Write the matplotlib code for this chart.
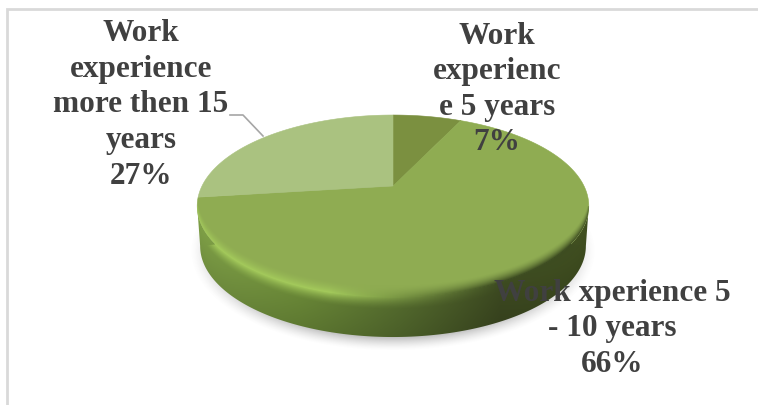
import numpy as np
import matplotlib
matplotlib.use("Agg")
import matplotlib.pyplot as plt
from matplotlib.patches import Polygon

# ===== DATA =====
categories = [
    "Work\nexperienc\ne 5 years",
    "Work xperience 5\n- 10 years",
    "Work\nexperience\nmore then 15\nyears",
]
values = [7, 66, 27]
colors = ["#7b9040", "#8fac52", "#aac280"]
label_pos = [(497, 89.5), (612, 329), (141, 105)]

# ===== PIE GEOMETRY (pixels) =====
W, H = 758, 406
cx, cy = 393, 187
px, py, persp = 191.0, 86.6, 0.22
depth = 40
wall_taper = 0.985


def project(theta):
    # clockwise from twelve o'clock, tilted circle with some perspective
    x = np.sin(theta)
    y = np.cos(theta)
    w = 1 + persp * y
    return cx + px * x / w, cy - py * y / w


def wedge(start, end):
    t = np.linspace(start, end, 200)
    xs, ys = project(t)
    return np.column_stack([np.r_[cx, xs], np.r_[cy, ys]])


# the widest points sit where cos(theta) == -persp
t_wide = np.arccos(-persp)
t_low = np.linspace(t_wide, 2 * np.pi - t_wide, 500)
t_up = np.linspace(t_wide - 2 * np.pi, 2 * np.pi - t_wide - 2 * np.pi, 500)
low_x, low_y = project(t_low)
up_x, up_y = project(t_up)
order = np.argsort(low_x)
edge_x, edge_y = low_x[order], low_y[order]
bottom_x = cx + (edge_x - cx) * wall_taper
bottom_y = edge_y + depth

fig = plt.figure(figsize=(W / 100, H / 100), dpi=100)
ax = fig.add_axes([0, 0, 1, 1])
ax.set_xlim(0, W)
ax.set_ylim(H, 0)
ax.axis("off")

# ===== FRAME (left and top only) =====
ax.plot([7, 7, W], [H, 10, 10], color="#d9d9d9", lw=2, solid_joinstyle="miter", zorder=1)

gx, gy = np.meshgrid(np.arange(W) + 0.5, np.arange(H) + 0.5)

# ===== SOFT SHADOW =====
d = np.sqrt(((gx - cx) / 203.0) ** 2 + ((gy - 252) / 100.0) ** 2)
shadow = np.zeros((H, W, 4))
shadow[..., :3] = 0.45
shadow[..., 3] = 0.42 * np.clip((1.0 - d) / 0.13, 0, 1) ** 1.5
ax.imshow(shadow, extent=(0, W, H, 0), zorder=2, aspect="auto", interpolation="bilinear")

# ===== SIDE WALL =====
stops_x = [197, 300, 400, 500, 589]
stops_rgb = np.array([
    [0.50, 0.63, 0.28],
    [0.42, 0.54, 0.22],
    [0.33, 0.42, 0.18],
    [0.24, 0.29, 0.13],
    [0.26, 0.32, 0.13],
])
base = np.stack([np.interp(gx, stops_x, stops_rgb[:, i]) for i in range(3)], axis=-1)
e = np.interp(gx, edge_x, edge_y)
v = (gy - e) / depth
side = base * (1 - 0.12 * np.clip(v, 0, 1))[..., None]

wall = Polygon(np.column_stack([np.r_[edge_x, bottom_x[::-1]], np.r_[edge_y, bottom_y[::-1]]]),
               closed=True, fc="none", ec="none")
ax.add_patch(wall)
img = ax.imshow(side, extent=(0, W, H, 0), zorder=3, aspect="auto", interpolation="bilinear")
img.set_clip_path(wall)

# ===== TOP FACE =====
start = 0.0
total = sum(values)
for val, col in zip(values, colors):
    end = start + 2 * np.pi * val / total
    ax.add_patch(Polygon(wedge(start, end), closed=True, fc=col, ec=col, lw=0.4, zorder=4))
    start = end

# ===== BEVEL ON THE RIM =====
# bright on the lit left side, fading to dark on the right
rim_mix = np.clip((gx - 330) / 170.0, 0, 1)[..., None]
rim_rgb = (1 - rim_mix) * np.array([0.64, 0.79, 0.36]) + rim_mix * np.array([0.24, 0.30, 0.13])
bevel = np.zeros((H, W, 4))
bevel[..., :3] = rim_rgb
up = np.clip((v + 0.30) / 0.30, 0, 1)
down = np.clip(1 - v / 0.32, 0, 1)
bevel[..., 3] = np.where(v < 0, up ** 1.6, down ** 1.6)

# whole silhouette: over the top of the face, then along the bottom of the wall
sil_x = np.r_[up_x, bottom_x[::-1], bottom_x[:1]]
sil_y = np.r_[up_y, bottom_y[::-1], bottom_y[:1]]
silhouette = Polygon(np.column_stack([sil_x, sil_y]), closed=True, fc="none", ec="none")
ax.add_patch(silhouette)
rim_img = ax.imshow(bevel, extent=(0, W, H, 0), zorder=5, aspect="auto", interpolation="bilinear")
rim_img.set_clip_path(silhouette)

# ===== LEADER LINE =====
ax.plot([230, 243, 263], [116, 116, 137], color="#a6a6a6", lw=1.2, zorder=6)

# ===== LABELS =====
for name, val, (lx, ly) in zip(categories, values, label_pos):
    ax.text(lx, ly, f"{name}\n{val}%", ha="center", va="center", ma="center",
            family="Liberation Serif", weight="bold", fontsize=22.5, color="#404040",
            linespacing=1.3, zorder=7)

ax.set_xlim(0, W)
ax.set_ylim(H, 0)
fig.savefig("out.png", dpi=100)
